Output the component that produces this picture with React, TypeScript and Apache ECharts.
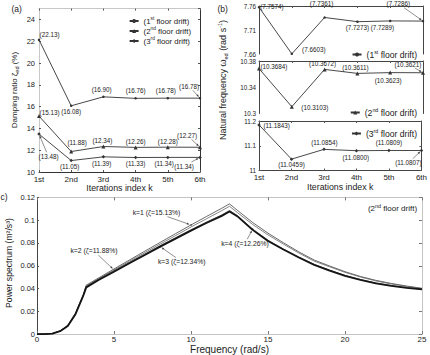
import { useEffect, useRef } from 'react';
import * as echarts from 'echarts';

const FONT = 'Liberation Sans';
const INK = '#222';
const LINE = '#333';

const iterations = ['1st', '2nd', '3rd', '4th', '5th', '6th'];

// Damping ratio ζ_ed (%) per iteration, one list per floor drift
const damping1st = [22.13, 16.08, 16.9, 16.76, 16.78, 16.78];
const damping2nd = [15.13, 11.88, 12.34, 12.26, 12.28, 12.27];
const damping3rd = [13.48, 11.05, 11.39, 11.33, 11.34, 11.34];

// Natural frequency ω_ed (rad/s) per iteration
const freq1st = [7.7574, 7.6603, 7.7361, 7.7273, 7.7289, 7.7286];
const freq2nd = [10.3684, 10.3103, 10.3672, 10.3611, 10.3623, 10.3621];
const freq3rd = [11.1843, 11.0459, 11.0854, 11.08, 11.0809, 11.0807];

// Power spectrum of the 2nd floor drift for iterations k = 1..4
const omega = [0, 0.5, 1, 1.5, 2, 2.5, 3, 3.2, 4, 5, 6, 7, 8, 9, 10, 11, 12, 12.5, 13, 14, 15, 16, 17, 18, 19, 20, 21, 22, 23, 24, 25];
const psdK1 = [0, 0, 0.0006, 0.0028, 0.0078, 0.0185, 0.0345, 0.043, 0.0493, 0.0572, 0.065, 0.0728, 0.0805, 0.0882, 0.0958, 0.1032, 0.1105, 0.1143, 0.1088, 0.098, 0.0886, 0.0802, 0.0722, 0.065, 0.0598, 0.0548, 0.0506, 0.0472, 0.0445, 0.0422, 0.0402];
const psdK2 = [0, 0, 0.0006, 0.0027, 0.0076, 0.0181, 0.034, 0.0424, 0.0486, 0.0563, 0.0639, 0.0715, 0.079, 0.0865, 0.094, 0.1012, 0.1084, 0.1122, 0.1068, 0.0963, 0.0871, 0.079, 0.0712, 0.0641, 0.0591, 0.0542, 0.0501, 0.0467, 0.044, 0.0418, 0.0399];
const psdK3 = [0, 0, 0.0005, 0.0026, 0.0072, 0.0175, 0.0335, 0.041, 0.0475, 0.0548, 0.0622, 0.0695, 0.0768, 0.0838, 0.0908, 0.0975, 0.1038, 0.1077, 0.1035, 0.0915, 0.0818, 0.0742, 0.0672, 0.0608, 0.0558, 0.0512, 0.0476, 0.0446, 0.0423, 0.0406, 0.0392];
const psdK4 = [0, 0, 0.0005, 0.0026, 0.0073, 0.0177, 0.0338, 0.0416, 0.0482, 0.0556, 0.063, 0.0703, 0.0776, 0.0846, 0.0916, 0.0983, 0.1046, 0.1085, 0.1042, 0.0922, 0.0824, 0.0747, 0.0677, 0.0612, 0.0562, 0.0516, 0.0479, 0.0449, 0.0426, 0.0408, 0.0394];
const psdNotes = ['k=1 (ζ=15.13%)', 'k=2 (ζ=11.88%)', 'k=3 (ζ=12.34%)', 'k=4 (ζ=12.26%)'];
const psdNoteIdx = [14, 9, 12, 19];

// where each value label sits relative to its point (dx, dy in px)
const dampOff1 = [[10.5, -5], [0, 6], [-1.7, -7], [0, -8], [-2, -8], [-11, -12]];
const dampOff2 = [[10.5, -3.5], [6, -9], [-1, -6.5], [0, -6], [0, -6], [-13, -12]];
const dampOff3 = [[9.5, 22.6], [-1.5, 5.5], [-1.7, 6.5], [0, 6], [-3.6, 6], [-16, 8.6]];
const freqOff1 = [[13, -1], [22, -4.6], [-3, -13.8], [0, 6], [-7.7, 6.6], [-24.7, -17.4]];
const freqOff2 = [[15, -2], [23, 0.5], [-2, -5.5], [-2, -6], [-2, 8], [-15, -8.7]];
const freqOff3 = [[17.7, 0.5], [0, 5.5], [0.4, -6.6], [-0.7, 7], [0, -7.7], [-13, 12.2]];
const psdOff = [[-34.5, -12.2], [-20, -19], [21.5, 15], [-7.6, 14.5]];

const legendText: Record<string, string> = {
  a1: '{n|(1}{s|st}{n| floor drift)}',
  a2: '{n|(2}{s|nd}{n| floor drift)}',
  a3: '{n|(3}{s|rd}{n| floor drift)}',
  b1: '{n|(1}{s|st}{n| floor drift)}',
  b2: '{n|(2}{s|nd}{n| floor drift)}',
  b3: '{n|(3}{s|rd}{n| floor drift)}',
};

const supRich = (size: number, lh: number) => ({
  n: { fontSize: size, lineHeight: lh, fontFamily: FONT, color: INK },
  s: { fontSize: size * 0.62, lineHeight: size * 0.62, verticalAlign: 'top', fontFamily: FONT, color: INK },
});

const place = (offsets: Record<number, number[]>) => (p: any) => {
  const o = offsets[p.dataIndex];
  if (!o) return {};
  return {
    x: p.rect.x + p.rect.width / 2 + o[0],
    y: p.rect.y + p.rect.height / 2 + o[1],
    align: 'center',
    verticalAlign: 'middle',
  };
};

const pointSeries = (
  name: string, values: number[], xi: number, yi: number, symbol: string, size: number,
  offsets: number[][], digits: number,
) => ({
  name,
  type: 'line',
  xAxisIndex: xi,
  yAxisIndex: yi,
  data: values,
  symbol,
  symbolSize: size,
  itemStyle: { color: LINE },
  lineStyle: { color: LINE, width: 0.9 },
  label: {
    show: true,
    fontSize: 6.3,
    color: INK,
    fontFamily: FONT,
    formatter: (p: any) => `(${Number(p.value).toFixed(digits)})`,
  },
  labelLayout: place(offsets as any),
});

const psdSeries = (name: string, values: number[], width: number, color: string, k: number) => ({
  name,
  type: 'line',
  xAxisIndex: 6,
  yAxisIndex: 8,
  symbol: 'none',
  data: omega.map((w, i) =>
    i === psdNoteIdx[k]
      ? { value: [w, values[i]], symbol: 'circle', symbolSize: 1.5, label: { show: true, formatter: psdNotes[k] } }
      : [w, values[i]],
  ),
  lineStyle: { width, color },
  itemStyle: { color },
  label: { show: false, fontSize: 6.8, color: INK, fontFamily: FONT },
  labelLayout: place({ [psdNoteIdx[k]]: psdOff[k] }),
  z: width > 1 ? 3 : 2,
});

// Leader arrows from a value label to the point it describes.
// Each datum: [x, y, dx, dy, halfLabelWidth]
const arrowSeries = (xi: number, yi: number, data: number[][]) => ({
  type: 'custom',
  xAxisIndex: xi,
  yAxisIndex: yi,
  silent: true,
  z: 5,
  data,
  renderItem: (_params: any, api: any) => {
    const p = api.coord([api.value(0), api.value(1)]);
    const dx = api.value(2);
    const dy = api.value(3);
    const hw = api.value(4);
    const hh = 3.6;
    const cx = p[0] + dx;
    const cy = p[1] + dy;
    const vx = -dx;
    const vy = -dy;
    const t = Math.min(Math.abs(vx) > 0 ? hw / Math.abs(vx) : 9, Math.abs(vy) > 0 ? hh / Math.abs(vy) : 9, 1);
    const len = Math.hypot(vx, vy);
    const ux = vx / len;
    const uy = vy / len;
    const sx = cx + vx * t + ux * 0.8;
    const sy = cy + vy * t + uy * 0.8;
    const ex = p[0] - ux * 1.6;
    const ey = p[1] - uy * 1.6;
    const nx = -uy;
    const ny = ux;
    const head = 2.6;
    return {
      type: 'group',
      children: [
        { type: 'line', shape: { x1: sx, y1: sy, x2: ex - ux * 1.5, y2: ey - uy * 1.5 }, style: { stroke: '#444', lineWidth: 0.6 } },
        {
          type: 'polygon',
          shape: {
            points: [
              [ex, ey],
              [ex - ux * head + nx * 1.1, ey - uy * head + ny * 1.1],
              [ex - ux * head - nx * 1.1, ey - uy * head - ny * 1.1],
            ],
          },
          style: { fill: '#444' },
        },
      ],
    };
  },
});

const catAxis = (grid: number, position: string, color: string, labels: boolean, name?: string, gap = 10) => ({
  type: 'category',
  gridIndex: grid,
  position,
  data: iterations,
  boundaryGap: false,
  axisLine: { show: true, onZero: false, lineStyle: { color, width: 1 } },
  axisTick: { show: true, inside: true, length: 2, lineStyle: { color: '#555' } },
  axisLabel: { show: labels, fontSize: 8, color: INK, margin: 3 },
  splitLine: { show: false },
  name,
  nameLocation: 'middle',
  nameGap: gap,
  nameTextStyle: { fontSize: 8.8, color: INK, fontFamily: FONT },
});

const valAxis = (
  grid: number, position: string, min: number, max: number, interval: number, color: string,
  labels: boolean, extra: any = {},
) => ({
  type: 'value',
  gridIndex: grid,
  position,
  min,
  max,
  interval,
  axisLine: { show: true, onZero: false, lineStyle: { color, width: 1 } },
  axisTick: { show: true, inside: true, length: 2, lineStyle: { color: '#555' } },
  axisLabel: { show: labels, fontSize: 7.5, color: INK, margin: 4, ...(extra.axisLabel || {}) },
  splitLine: { show: false },
  ...(extra.rest || {}),
});

const text = (x: number, y: number, str: string, size: number, rotate = false, rich: any = undefined) => ({
  type: 'text',
  x,
  y,
  rotation: rotate ? Math.PI / 2 : 0,
  silent: true,
  style: {
    text: str,
    fontSize: size,
    fontFamily: FONT,
    fill: INK,
    align: 'center',
    verticalAlign: 'middle',
    lineHeight: size * 1.3,
    rich,
  },
});

const subSupRich = {
  d: { fontSize: 5.5, lineHeight: 6, verticalAlign: 'bottom', fontFamily: FONT, fill: INK },
  u: { fontSize: 5.5, lineHeight: 6, verticalAlign: 'top', fontFamily: FONT, fill: INK },
};

function buildOption(): any {
  const bLegend = (name: string, top: number) => ({
    data: [name],
    orient: 'vertical',
    right: 8,
    top,
    itemWidth: 9,
    itemHeight: 5,
    selectedMode: false,
    formatter: (n: string) => legendText[n],
    textStyle: { rich: supRich(8.6, 11) },
  });

  const last = iterations.length - 1;
  const dampArrows = [
    [last, damping1st[last], ...dampOff1[last], 10],
    [last, damping2nd[last], ...dampOff2[last], 10],
    [0, damping3rd[0], ...dampOff3[0], 10],
    [last, damping3rd[last], ...dampOff3[last], 10],
  ];
  const psdCurves = [psdK1, psdK2, psdK3, psdK4];
  const psdArrows = psdNoteIdx.map((idx, k) => [omega[idx], psdCurves[k][idx], ...psdOff[k], 25]);

  return {
    animation: false,
    backgroundColor: '#fff',
    textStyle: { fontFamily: FONT },
    grid: [
      { left: 39, top: 8.6, width: 161, height: 163.4 },
      { left: 259, top: 6, width: 164, height: 48 },
      { left: 259, top: 61, width: 164, height: 52.5 },
      { left: 259, top: 121, width: 164, height: 49.5 },
      { left: 37, top: 197.4, width: 385, height: 139.3 },
    ],
    xAxis: [
      catAxis(0, 'bottom', '#333', true, 'Iterations index k', 10),
      catAxis(0, 'top', '#c8c8c8', false),
      catAxis(1, 'top', '#444', false),
      catAxis(2, 'top', '#444', false),
      catAxis(3, 'bottom', '#444', true, 'Iterations index k', 11),
      catAxis(3, 'top', '#444', false),
      {
        type: 'value', gridIndex: 4, position: 'bottom', min: 0, max: 25, interval: 5,
        axisLine: { show: true, onZero: false, lineStyle: { color: '#c4c4c4' } },
        axisTick: { show: true, inside: true, length: 3, lineStyle: { color: '#777' } },
        axisLabel: { fontSize: 8, color: INK, margin: 1 },
        splitLine: { show: false },
        name: 'Frequency (rad/s)', nameLocation: 'middle', nameGap: 7,
        nameTextStyle: { fontSize: 10, color: INK, fontFamily: FONT },
      },
      {
        type: 'value', gridIndex: 4, position: 'top', min: 0, max: 25, interval: 5,
        axisLine: { show: true, onZero: false, lineStyle: { color: '#c4c4c4' } },
        axisTick: { show: true, inside: true, length: 3, lineStyle: { color: '#777' } },
        axisLabel: { show: false },
        splitLine: { show: false },
      },
    ],
    yAxis: [
      valAxis(0, 'left', 10, 25, 2, '#c8c8c8', true, { axisLabel: { showMaxLabel: false } }),
      valAxis(0, 'right', 10, 25, 2, '#333', false),
      valAxis(1, 'left', 7.66, 7.76, 0.01, '#444', true, {
        axisLabel: {
          fontSize: 6.3, margin: 3,
          formatter: (v: number) => {
            const c = Math.round(v * 100);
            return (c - 766) % 5 === 0 ? String(c / 100) : '';
          },
        },
        rest: { axisTick: { show: false } },
      }),
      valAxis(1, 'right', 7.66, 7.76, 0.01, '#444', false, { rest: { axisTick: { show: false } } }),
      valAxis(2, 'left', 10.3, 10.38, 0.02, '#444', true, {
        axisLabel: {
          fontSize: 6.3, margin: 3,
          formatter: (v: number) => {
            const c = Math.round(v * 100);
            return (c - 1030) % 4 === 0 ? String(c / 100) : '';
          },
        },
        rest: { axisTick: { show: false } },
      }),
      valAxis(2, 'right', 10.3, 10.38, 0.02, '#444', false, { rest: { axisTick: { show: false } } }),
      valAxis(3, 'left', 11, 11.2, 0.1, '#444', true, { axisLabel: { fontSize: 6.3, margin: 3 } }),
      valAxis(3, 'right', 11, 11.2, 0.1, '#444', false),
      valAxis(4, 'left', 0, 0.12, 0.02, '#444', true, { axisLabel: { fontSize: 7.5, margin: 2 } }),
      valAxis(4, 'right', 0, 0.12, 0.02, '#c4c4c4', false, {
        rest: { axisTick: { show: true, inside: true, length: 3, lineStyle: { color: '#777' } } },
      }),
    ],
    legend: [
      {
        data: ['a1', 'a2', 'a3'],
        orient: 'vertical',
        right: 234,
        top: 11,
        itemWidth: 9,
        itemHeight: 5,
        itemGap: 1,
        selectedMode: false,
        formatter: (n: string) => legendText[n],
        textStyle: { rich: supRich(7.8, 10) },
      },
      bLegend('b1', 44),
      bLegend('b2', 102),
      bLegend('b3', 123),
    ],
    series: [
      pointSeries('a1', damping1st, 0, 0, 'circle', 2.5, dampOff1, 2),
      pointSeries('a2', damping2nd, 0, 0, 'triangle', 4, dampOff2, 2),
      pointSeries('a3', damping3rd, 0, 0, 'diamond', 3.5, dampOff3, 2),
      pointSeries('b1', freq1st, 2, 2, 'circle', 2.5, freqOff1, 4),
      pointSeries('b2', freq2nd, 3, 4, 'triangle', 4, freqOff2, 4),
      pointSeries('b3', freq3rd, 4, 6, 'diamond', 3.5, freqOff3, 4),
      psdSeries('k1', psdK1, 0.8, '#444', 0),
      psdSeries('k2', psdK2, 0.8, '#666', 1),
      psdSeries('k3', psdK3, 1.8, '#151515', 2),
      psdSeries('k4', psdK4, 0.8, '#333', 3),
      arrowSeries(0, 0, dampArrows),
      arrowSeries(2, 2, [[last, freq1st[last], ...freqOff1[last], 12]]),
      arrowSeries(3, 4, [[last, freq2nd[last], ...freqOff2[last], 12]]),
      arrowSeries(4, 6, [[last, freq3rd[last], ...freqOff3[last], 12]]),
      arrowSeries(6, 8, psdArrows),
    ],
    graphic: [
      text(16.7, 8.5, '(a)', 8.5),
      text(222.7, 8.5, '(b)', 8.5),
      text(4, 197, 'c)', 8.5),
      text(14.5, 90, 'Damping ratio ζ{d|ed} (%)', 8, true, subSupRich),
      text(223, 80, 'Natural frequency ω{d|ed} (rad s{u|-1})', 9, true, subSupRich),
      text(9, 263, 'Power spectrum (m²/s³)', 8.6, true),
      text(392.5, 208.3, '(2{u|nd} floor drift)', 8, false, subSupRich),
    ],
  };
}

export default function App() {
  const ref = useRef<HTMLDivElement>(null);
  useEffect(() => {
    document.body.style.margin = '0';
    const chart = echarts.init(ref.current!, undefined, { renderer: 'svg' });
    chart.setOption(buildOption());
    return () => chart.dispose();
  }, []);
  return <div ref={ref} style={{ width: 430, height: 355 }} />;
}
